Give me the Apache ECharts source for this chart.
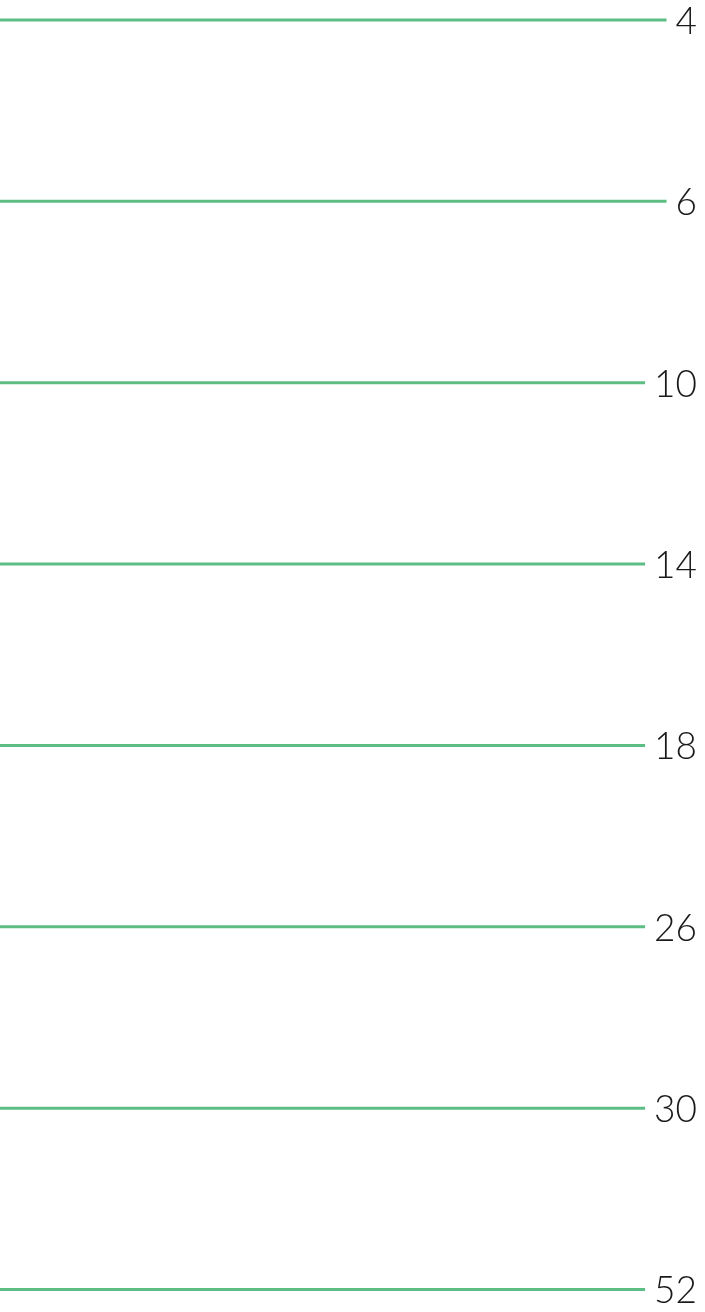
<!DOCTYPE html>
<html>
<head>
<meta charset="utf-8">
<style>
  html, body { margin: 0; padding: 0; background: #ffffff; }
  #chart { width: 705px; height: 1312px; }
</style>
<script src="https://cdn.jsdelivr.net/npm/echarts@6/dist/echarts.min.js"></script>
</head>
<body>
<div id="chart"></div>
<script>
// Tick labels shown at the right end of each line
const categories = ['4', '6', '10', '14', '18', '26', '30', '52'];
// Every line spans the full width of the plot
const lineLengths = [1, 1, 1, 1, 1, 1, 1, 1];

const chart = echarts.init(document.getElementById('chart'), null, { renderer: 'canvas' });
chart.setOption({
  animation: false,
  backgroundColor: '#ffffff',
  grid: { left: 0, right: 8, top: 20, bottom: 22.5, containLabel: false },
  xAxis: { type: 'value', min: 0, max: 1, show: false },
  yAxis: {
    type: 'category',
    data: categories,
    inverse: true,
    boundaryGap: false,
    show: false
  },
  series: [{
    type: 'bar',
    data: lineLengths,
    barWidth: 3,
    clip: false,
    itemStyle: { color: '#5cbe84' },
    label: {
      show: true,
      position: 'insideRight',
      distance: 0,
      formatter: function (p) { return p.name; },
      fontFamily: 'Lato',
      fontWeight: 300,
      fontSize: 37,
      color: '#1a1a1a',
      backgroundColor: '#ffffff',
      padding: [0, 0, 0, 9],
      offset: [0, 2]
    }
  }]
});
</script>
</body>
</html>
